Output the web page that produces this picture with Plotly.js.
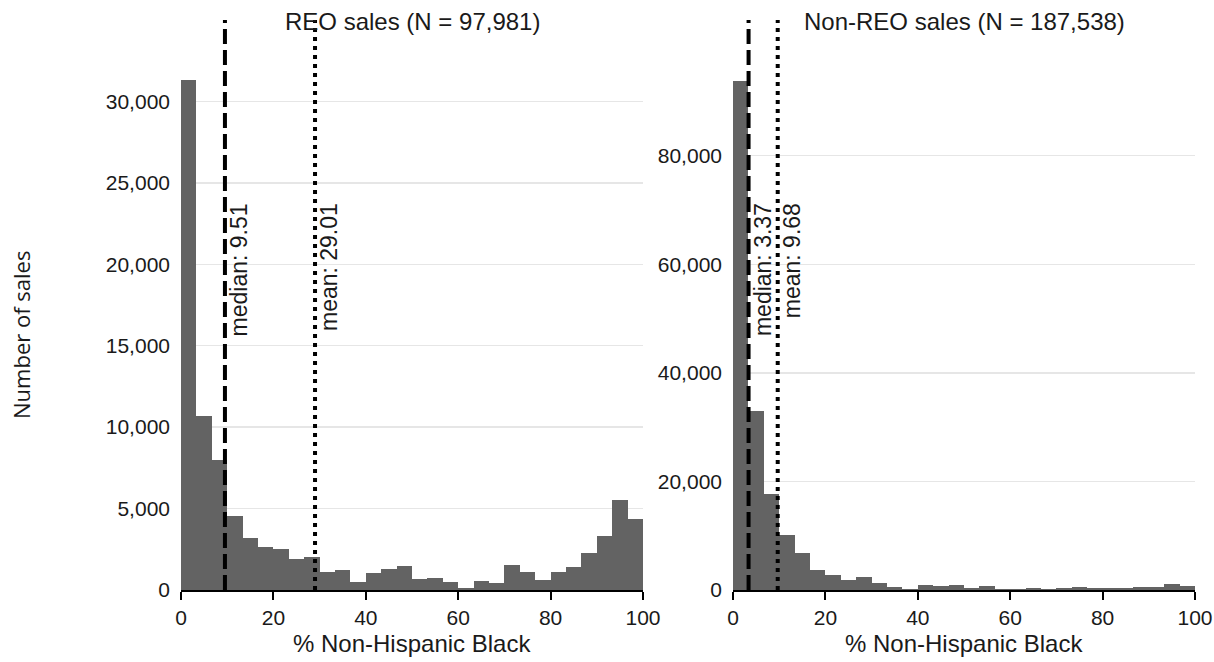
<!DOCTYPE html>
<html>
<head>
<meta charset="utf-8">
<script src="https://cdn.plot.ly/plotly-3.0.1.min.js"></script>
<style>html,body{margin:0;padding:0;background:#fff;}#chart{width:1214px;height:662px;}</style>
</head>
<body>
<div id="chart"></div>
<script>
// ---- data ----
const binCount = 30;
const binWidth = 100 / binCount;
const panelTitles = ['REO sales (N = 97,981)', 'Non-REO sales (N = 187,538)'];
const xAxisTitle = '% Non-Hispanic Black';
const yAxisTitle = 'Number of sales';
const reoCounts = [31300, 10700, 8000, 4550, 3200, 2650, 2500, 1900, 2000, 1100,
                   1200, 500, 1050, 1300, 1500, 700, 750, 500, 100, 550,
                   450, 1550, 1100, 600, 1100, 1400, 2250, 3300, 5500, 4350];
const nonReoCounts = [93700, 33000, 17700, 10100, 6900, 3600, 2800, 1900, 2400, 1200,
                      600, 200, 1000, 650, 850, 450, 700, 250, 100, 300,
                      150, 450, 550, 300, 300, 350, 600, 600, 1050, 750];
const statLabels = ['median', 'mean'];
const reoStats = [9.51, 29.01];
const nonReoStats = [3.37, 9.68];
const xTicks = [0, 20, 40, 60, 80, 100];
const reoYTicks = [0, 5000, 10000, 15000, 20000, 25000, 30000];
const nonReoYTicks = [0, 20000, 40000, 60000, 80000];

// ---- build ----
const W = 1214, H = 662;
const px = v => v / W;
const py = v => (H - v) / H;
const centers = reoCounts.map((_, i) => (i + 0.5) * binWidth);
const barColor = '#636363';
const font = 'Liberation Sans, Arial, sans-serif';
const textColor = '#1a1a1a';

const traces = [
  {type: 'bar', x: centers, y: reoCounts, width: binWidth, xaxis: 'x', yaxis: 'y',
   marker: {color: barColor, line: {width: 0}}, hoverinfo: 'skip'},
  {type: 'bar', x: centers, y: nonReoCounts, width: binWidth, xaxis: 'x2', yaxis: 'y2',
   marker: {color: barColor, line: {width: 0}}, hoverinfo: 'skip'}
];

const plotTop = 20, plotBottom = 590;
const yDomain = [py(plotBottom), py(plotTop)];

function xAx(domain, anchor) {
  return {domain: domain, anchor: anchor, range: [0, 100], tickvals: xTicks,
    ticks: 'outside', ticklen: 8, tickwidth: 2, tickcolor: '#000',
    showline: true, linewidth: 2, linecolor: '#000', showgrid: false, zeroline: false,
    ticklabeloverflow: 'allow',
    tickfont: {family: font, size: 21, color: textColor}, fixedrange: true};
}
function yAx(domain, anchor, range, ticks) {
  return {domain: domain, anchor: anchor, range: range, tickvals: ticks, tickformat: ',',
    ticks: '', showline: false, showgrid: true, gridcolor: '#e6e6e6', gridwidth: 1.5,
    zeroline: false, ticklabelstandoff: 10,
    tickfont: {family: font, size: 21, color: textColor}, fixedrange: true};
}

const shapes = [];
const annotations = [];
const panels = [
  {xref: 'x', yref: 'y', stats: reoStats},
  {xref: 'x2', yref: 'y2', stats: nonReoStats}
];
const dashes = ['15px,6px', '4px,5px'];
panels.forEach(p => {
  p.stats.forEach((v, i) => {
    shapes.push({type: 'line', xref: p.xref, x0: v, x1: v, yref: p.yref + ' domain', y0: 0, y1: 1,
      line: {color: '#000', width: 4, dash: dashes[i]}, layer: 'above'});
    annotations.push({xref: p.xref, x: v, xanchor: 'left', xshift: -1,
      yref: 'paper', y: py(201), yanchor: 'top', textangle: -90, showarrow: false,
      text: statLabels[i] + ': ' + v.toFixed(2),
      font: {family: font, size: 23, color: textColor}});
  });
});

const xDomains = [[px(181), px(643)], [px(733), px(1195)]];
panelTitles.forEach((t, i) => {
  annotations.push({xref: 'paper', yref: 'paper', x: (xDomains[i][0] + xDomains[i][1]) / 2, y: py(22),
    xanchor: 'center', yanchor: 'middle', showarrow: false, text: t,
    font: {family: font, size: 24, color: textColor}});
  annotations.push({xref: 'paper', yref: 'paper', x: (xDomains[i][0] + xDomains[i][1]) / 2, y: py(643),
    xanchor: 'center', yanchor: 'middle', showarrow: false, text: xAxisTitle,
    font: {family: font, size: 24, color: textColor}});
});
annotations.push({xref: 'paper', yref: 'paper', x: px(21), y: py(335), xanchor: 'center', yanchor: 'middle',
  textangle: -90, showarrow: false, text: yAxisTitle,
  font: {family: 'Open Sans, Noto Sans, sans-serif', size: 22, color: textColor}});

const layout = {
  width: W, height: H, margin: {l: 0, r: 0, t: 0, b: 0},
  paper_bgcolor: '#fff', plot_bgcolor: '#fff', showlegend: false, bargap: 0,
  xaxis: xAx(xDomains[0], 'y'),
  yaxis: yAx(yDomain, 'x', [0, 35000], reoYTicks),
  xaxis2: xAx(xDomains[1], 'y2'),
  yaxis2: yAx(yDomain, 'x2', [0, 105000], nonReoYTicks),
  shapes: shapes, annotations: annotations
};

Plotly.newPlot('chart', traces, layout, {displayModeBar: false, staticPlot: true});
</script>
</body>
</html>
